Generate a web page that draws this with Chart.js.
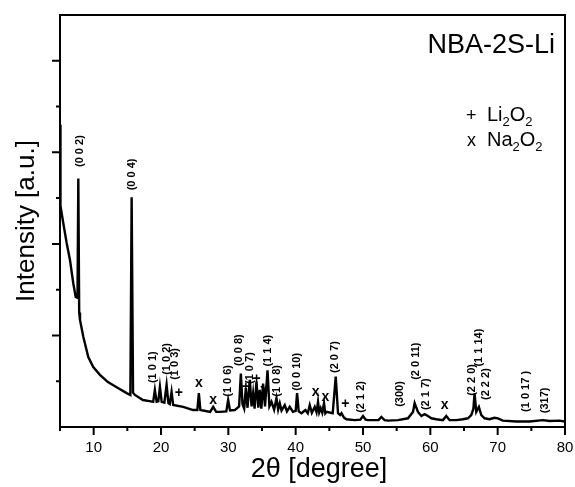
<!DOCTYPE html>
<html>
<head>
<meta charset="utf-8">
<script src="https://cdn.jsdelivr.net/npm/chart.js@4"></script>
<style>
  body { margin: 0; background: #fff; }
  #wrap { width: 575px; height: 487px; }
</style>
</head>
<body>
<div id="wrap"><canvas id="xrd" width="575" height="487"></canvas></div>
<script>
// 2theta positions (degree) and intensity (a.u.)
var twoTheta = [
  5.0, 5.07, 5.49, 5.99, 6.48, 6.97, 7.33, 7.6, 7.72, 7.85, 7.97, 8.46, 9.2, 9.94,
  10.93, 12.12, 13.6, 14.9, 15.45, 15.64, 15.85, 16.13, 17.31, 18.5, 18.84, 19.09,
  19.35, 19.6, 19.84, 20.1, 20.5, 20.83, 21.1, 21.3, 21.57, 21.81, 23.29, 24.78,
  25.4, 25.62, 25.85, 26.26, 27.3, 27.75, 28.2, 28.74, 29.7, 29.97, 30.25, 30.96,
  31.6, 31.86, 32.1, 32.35, 32.6, 32.85, 33.19, 33.45, 33.68, 33.9, 34.18, 34.45,
  34.67, 34.9, 35.16, 35.45, 35.82, 36.1, 36.41, 36.8, 37.15, 37.4, 37.64, 37.9,
  38.38, 38.7, 39.12, 39.6, 40.0, 40.21, 40.45, 40.86, 41.45, 41.8, 42.09, 42.4,
  42.83, 43.1, 43.32, 43.5, 43.72, 43.95, 44.21, 44.4, 44.57, 45.5, 45.95, 46.29,
  46.6, 46.8, 47.2, 47.54, 48.77, 49.6, 50.0, 50.4, 50.74, 52.3, 52.73, 53.2, 53.71,
  55.19, 56.68, 57.42, 57.67, 58.16, 58.67, 59.15, 59.64, 60.15, 60.89, 61.87,
  62.37, 62.86, 63.86, 64.84, 65.58, 66.08, 66.4, 66.57, 66.82, 67.21, 67.57,
  68.06, 68.8, 69.5, 70.03, 70.77, 72.76, 74.73, 76.71, 77.7, 79.18, 79.93
];
var intensity = [
  6.6, 4.83, 4.45, 4.02, 3.65, 3.14, 2.84, 2.82, 5.43, 2.5, 2.34, 1.97, 1.53, 1.31,
  1.14, 0.98, 0.85, 0.74, 0.7, 5.02, 0.75, 0.7, 0.59, 0.56, 0.55, 0.81,
  0.55, 0.56, 0.88, 0.55, 0.53, 0.92, 0.52, 0.5, 0.77, 0.48, 0.44, 0.37,
  0.37, 0.74, 0.37, 0.36, 0.33, 0.44, 0.33, 0.33, 0.34, 0.59, 0.36, 0.37,
  0.45, 1.17, 0.5, 0.4, 0.85, 0.42, 1.03, 0.45, 0.74, 0.4, 0.99, 0.42,
  0.81, 0.4, 0.95, 0.45, 1.24, 0.45, 0.55, 0.38, 0.63, 0.38, 0.52, 0.36,
  0.48, 0.34, 0.44, 0.33, 0.35, 0.74, 0.34, 0.3, 0.37, 0.3, 0.48, 0.31,
  0.44, 0.32, 0.55, 0.32, 0.41, 0.31, 0.52, 0.3, 0.33, 0.3, 1.1, 0.3,
  0.26, 0.3, 0.2, 0.17, 0.15, 0.16, 0.24, 0.16, 0.15, 0.15, 0.22, 0.15, 0.14,
  0.15, 0.19, 0.33, 0.52, 0.33, 0.24, 0.28, 0.24, 0.19, 0.17, 0.15,
  0.24, 0.15, 0.15, 0.17, 0.19, 0.26, 0.4, 0.74, 0.33, 0.44, 0.26,
  0.19, 0.17, 0.2, 0.19, 0.14, 0.12, 0.12, 0.15, 0.13, 0.14, 0.12
];
var xTicks = [10, 20, 30, 40, 50, 60, 70, 80];

// reflection labels: text, 2theta, intensity where the text starts
var hklText = ['(0 0 2)', '(0 0 4)', '(1 0 1)', '(1 0 2)', '(1 0 3)', '(1 0 6)', '(0 0 8)',
  '(1 0 7)', '(1 1 4)', '(1 0 8)', '(0 0 10)', '(2 0 7)', '(2 1 2)', '(300)', '(2 0 11)',
  '(2 1 7)', '(2 2 0)', '(1 1 14)', '(2 2 2)', '(1 0 17 )', '(317)'];
var hklAt = [7.97, 15.64, 18.8, 20.83, 22.06, 29.97, 31.6, 33.19, 35.9, 37.15, 40.16,
  45.88, 49.76, 55.45, 57.82, 59.3, 66.2, 67.21, 68.31, 74.24, 76.96];
var hklFrom = [5.68, 5.17, 0.96, 1.14, 1.03, 0.66, 1.33, 0.94, 1.32, 0.66, 0.79,
  1.18, 0.31, 0.44, 1.03, 0.37, 0.68, 1.32, 0.59, 0.33, 0.3];

// phase markers: + Li2O2, x Na2O2
var markText = ['+', 'x', 'x', '+', '+', 'x', 'x', 'x', '+', 'x'];
var markAt = [22.66, 25.62, 27.75, 32.6, 34.18, 35.27, 42.98, 44.42, 47.36, 62.12];
var markHeight = [0.74, 0.95, 0.59, 0.87, 1.04, 0.81, 0.77, 0.66, 0.51, 0.48];

var points = twoTheta.map(function (t, i) { return { x: t, y: intensity[i] }; });

var FONT = '"Liberation Sans", Arial, sans-serif';

var decorations = {
  id: 'decorations',
  afterDraw: function (chart) {
    var ctx = chart.ctx;
    var area = chart.chartArea;
    var xs = chart.scales.x;
    var ys = chart.scales.y;
    ctx.save();
    ctx.fillStyle = '#000';
    ctx.strokeStyle = '#000';

    // frame
    ctx.lineWidth = 2;
    ctx.strokeRect(area.left, area.top, area.right - area.left, area.bottom - area.top);

    // ticks, pointing outwards
    ctx.beginPath();
    for (var v = 5; v <= 80; v += 5) {
      var px = xs.getPixelForValue(v);
      ctx.moveTo(px, area.bottom);
      ctx.lineTo(px, area.bottom + (v % 10 === 0 ? 8 : 4));
    }
    for (var k = 1; k <= 8; k++) {
      var py = ys.getPixelForValue(k);
      ctx.moveTo(area.left, py);
      ctx.lineTo(area.left - (k % 2 === 0 ? 8 : 4), py);
    }
    ctx.stroke();

    // hkl labels, rotated
    ctx.font = 'bold 11px ' + FONT;
    ctx.textAlign = 'left';
    ctx.textBaseline = 'middle';
    for (var i = 0; i < hklText.length; i++) {
      ctx.save();
      ctx.translate(xs.getPixelForValue(hklAt[i]), ys.getPixelForValue(hklFrom[i]));
      ctx.rotate(-Math.PI / 2);
      ctx.fillText(hklText[i], 0, 0);
      ctx.restore();
    }

    // phase markers
    ctx.font = 'bold 14px ' + FONT;
    ctx.textAlign = 'center';
    for (var j = 0; j < markText.length; j++) {
      ctx.fillText(markText[j], xs.getPixelForValue(markAt[j]), ys.getPixelForValue(markHeight[j]));
    }

    // sample name
    ctx.textBaseline = 'alphabetic';
    ctx.textAlign = 'right';
    ctx.font = '27px ' + FONT;
    ctx.fillText('NBA-2S-Li', 555, 53);

    // legend
    ctx.textAlign = 'left';
    function formula(parts, x, y) {
      parts.forEach(function (p) {
        ctx.font = (p[1] ? '13px ' : '20px ') + FONT;
        ctx.fillText(p[0], x, y + (p[1] ? 5 : 0));
        x += ctx.measureText(p[0]).width;
      });
    }
    ctx.font = '18px ' + FONT;
    ctx.fillText('+', 466, 121);
    ctx.fillText('x', 467, 146);
    formula([['Li', 0], ['2', 1], ['O', 0], ['2', 1]], 487, 121);
    formula([['Na', 0], ['2', 1], ['O', 0], ['2', 1]], 487, 146);

    // axis titles
    ctx.font = '27px ' + FONT;
    ctx.textAlign = 'center';
    ctx.fillText('2\u03b8 [degree]', 319, 477);
    ctx.save();
    ctx.translate(34, (area.top + area.bottom) / 2);
    ctx.rotate(-Math.PI / 2);
    ctx.font = '26px ' + FONT;
    ctx.fillText('Intensity [a.u.]', 0, 0);
    ctx.restore();

    ctx.restore();
  }
};

new Chart(document.getElementById('xrd'), {
  type: 'line',
  data: {
    datasets: [{
      data: points,
      borderColor: '#000',
      borderWidth: 2.4,
      pointRadius: 0,
      tension: 0,
      fill: false
    }]
  },
  options: {
    responsive: false,
    animation: false,
    layout: { padding: { top: 15, right: 10, left: 0, bottom: 0 } },
    plugins: {
      legend: { display: false },
      tooltip: { enabled: false }
    },
    scales: {
      x: {
        type: 'linear',
        min: 5,
        max: 80,
        afterFit: function (s) { s.height = 60; s.paddingLeft = 0; s.paddingRight = 0; },
        afterBuildTicks: function (s) { s.ticks = xTicks.map(function (v) { return { value: v }; }); },
        grid: { display: false },
        border: { display: false },
        ticks: { color: '#000', padding: 4, maxRotation: 0, font: { size: 15, family: FONT } }
      },
      y: {
        min: 0,
        max: 9,
        afterFit: function (s) { s.width = 60; },
        grid: { display: false },
        border: { display: false },
        ticks: { display: false }
      }
    }
  },
  plugins: [decorations]
});
</script>
</body>
</html>
